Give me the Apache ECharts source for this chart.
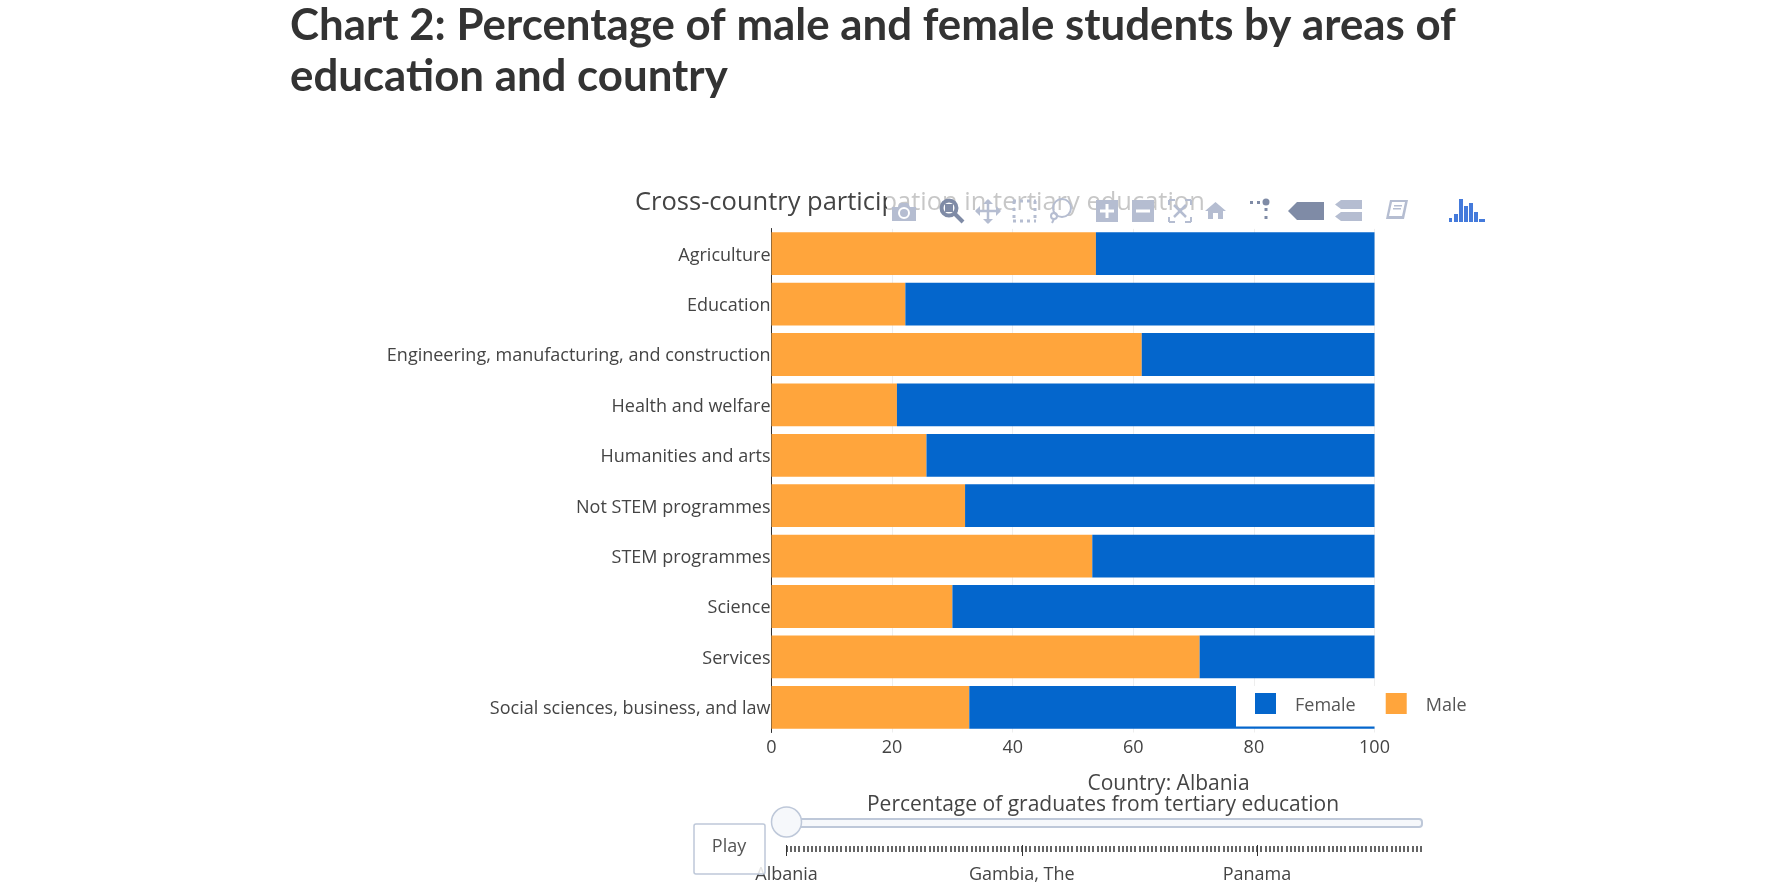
<!DOCTYPE html>
<html>
<head>
<meta charset="utf-8">
<title>Chart 2</title>
<style>
html, body { margin: 0; padding: 0; background: #fff; }
#main { width: 1784px; height: 892px; }
</style>
<script src="https://cdn.jsdelivr.net/npm/echarts@6/dist/echarts.min.js"></script>
</head>
<body>
<div id="main"></div>
<script>
// values
var categories = ['Agriculture', 'Education', 'Engineering, manufacturing, and construction', 'Health and welfare', 'Humanities and arts', 'Not STEM programmes', 'STEM programmes', 'Science', 'Services', 'Social sciences, business, and law'];
var maleValues = [53.8, 22.2, 61.4, 20.8, 25.7, 32.1, 53.2, 30.0, 71.0, 32.8];
var femaleValues = [46.2, 77.8, 38.6, 79.2, 74.3, 67.9, 46.8, 70.0, 29.0, 67.2];
var xTicks = [0, 20, 40, 60, 80, 100];

// slider under the chart
var sliderLabels = ['Albania', 'Gambia, The', 'Panama'];
var sliderLabelIndex = [0, 56, 112];
var sliderLastIndex = 151;

var pageTitle = 'Chart 2: Percentage of male and female students by areas of\neducation and country';
var chartTitle = 'Cross-country participation in tertiary education';
var axisTitle = 'Percentage of graduates from tertiary education';
var sliderTitle = 'Country: Albania';

var textColor = '#444';
var iconLight = '#b5bdd1';
var iconDark = '#7f8ba6';
var font = '"Open Sans"';

var chart = echarts.init(document.getElementById('main'));

// modebar icons, drawn over a half white strip like the original
function poly(points, color) {
	return { type: 'polygon', z: 30, shape: { points: points }, style: { fill: color } };
}
function bar(x, y, w, h, color) {
	return { type: 'rect', z: 30, shape: { x: x, y: y, width: w, height: h }, style: { fill: color } };
}
function line(x1, y1, x2, y2, color, width, dash) {
	return {
		type: 'line', z: 30,
		shape: { x1: x1, y1: y1, x2: x2, y2: y2 },
		style: { stroke: color, lineWidth: width, lineDash: dash || null }
	};
}
function dot(cx, cy, r, fill, stroke, width) {
	return { type: 'circle', z: 31, shape: { cx: cx, cy: cy, r: r }, style: { fill: fill, stroke: stroke || null, lineWidth: width || 0 } };
}

var modebar = [
	{ type: 'rect', z: 29, shape: { x: 887, y: 182, width: 603, height: 47 }, style: { fill: 'rgba(255,255,255,0.7)' } },
	// camera
	poly([[892, 207], [898, 207], [900, 203], [908, 203], [910, 207], [916, 207], [916, 221], [892, 221]], iconLight),
	dot(904, 213, 5, iconLight, '#fff', 2),
	// zoom
	dot(949, 208, 7.5, '#fff', iconDark, 4),
	{ type: 'rect', z: 32, shape: { x: 945, y: 204, width: 8, height: 8 }, style: { fill: iconDark } },
	line(955, 214, 963, 222, iconDark, 4),
	// pan
	line(988, 200, 988, 223, iconLight, 2.5),
	line(976, 211, 1000, 211, iconLight, 2.5),
	poly([[983, 204], [988, 199], [993, 204]], iconLight),
	poly([[983, 219], [988, 224], [993, 219]], iconLight),
	poly([[980, 206], [975, 211], [980, 216]], iconLight),
	poly([[996, 206], [1001, 211], [996, 216]], iconLight),
	// box select
	line(1013, 201, 1036, 201, iconLight, 3, [3, 4]),
	line(1013, 221, 1036, 221, iconLight, 3, [3, 4]),
	line(1014, 201, 1014, 221, iconLight, 3, [3, 4]),
	line(1035, 201, 1035, 221, iconLight, 3, [3, 4]),
	// lasso
	dot(1062, 208, 9, 'none', iconLight, 2),
	dot(1054, 216, 3, 'none', iconLight, 2),
	line(1054, 219, 1052, 223, iconLight, 2),
	// zoom in, zoom out
	bar(1096, 200, 22, 22, iconLight),
	{ type: 'rect', z: 31, shape: { x: 1105.5, y: 204, width: 3, height: 14 }, style: { fill: '#fff' } },
	{ type: 'rect', z: 31, shape: { x: 1100, y: 209.5, width: 14, height: 3 }, style: { fill: '#fff' } },
	bar(1132, 200, 22, 22, iconLight),
	{ type: 'rect', z: 31, shape: { x: 1136, y: 209.5, width: 14, height: 3 }, style: { fill: '#fff' } },
	// autoscale
	line(1169, 200, 1175, 200, iconLight, 2), line(1169, 200, 1169, 205, iconLight, 2),
	line(1185, 200, 1191, 200, iconLight, 2), line(1191, 200, 1191, 205, iconLight, 2),
	line(1169, 222, 1175, 222, iconLight, 2), line(1169, 217, 1169, 222, iconLight, 2),
	line(1185, 222, 1191, 222, iconLight, 2), line(1191, 217, 1191, 222, iconLight, 2),
	line(1174, 205, 1186, 217, iconLight, 2.5), line(1186, 205, 1174, 217, iconLight, 2.5),
	// home
	poly([[1215.5, 202], [1226, 211], [1223, 211], [1223, 219], [1218, 219], [1218, 213], [1213, 213], [1213, 219], [1208, 219], [1208, 211], [1205, 211]], iconLight),
	// spike lines
	bar(1250, 201, 3, 3, iconDark),
	bar(1257, 201, 3, 3, iconDark),
	dot(1266, 202, 3.5, iconDark),
	bar(1264.5, 208, 3, 3, iconDark),
	bar(1264.5, 216, 3, 3, iconDark),
	// hover closest, hover compare
	poly([[1297, 202], [1324, 202], [1324, 220], [1297, 220], [1288, 211]], iconDark),
	poly([[1341, 200], [1362, 200], [1362, 209], [1341, 209], [1335, 204.5]], iconLight),
	poly([[1341, 212], [1362, 212], [1362, 221], [1341, 221], [1335, 216.5]], iconLight),
	// book
	poly([[1390, 200], [1408, 200], [1404, 219], [1386, 219]], iconLight),
	poly([[1392, 202], [1405, 202], [1402, 216], [1389, 216]], '#fff'),
	{ type: 'rect', z: 31, shape: { x: 1394, y: 205, width: 8, height: 1.5 }, style: { fill: iconLight } },
	{ type: 'rect', z: 31, shape: { x: 1393, y: 208, width: 8, height: 1.5 }, style: { fill: iconLight } },
	// plotly logo
	bar(1449, 218, 3, 4, '#447adb'),
	bar(1454, 214, 4, 8, '#447adb'),
	bar(1459, 199, 4, 23, '#447adb'),
	bar(1464, 206, 4, 16, '#447adb'),
	bar(1469, 203, 4, 19, '#447adb'),
	bar(1474, 212, 4, 10, '#447adb'),
	bar(1479, 219, 6, 3, '#447adb')
];

// slider track, handle and play button
var slider = [
	{ type: 'rect', z: 5, shape: { x: 786, y: 819, width: 636, height: 8, r: 3 }, style: { fill: '#f6f8fb', stroke: '#bec8d9', lineWidth: 2 } },
	{ type: 'circle', z: 6, shape: { cx: 786.5, cy: 822, r: 15 }, style: { fill: '#f6f8fb', stroke: '#bec8d9', lineWidth: 1.5 } },
	{ type: 'rect', z: 7, shape: { x: 694, y: 824, width: 71, height: 50, r: 2 }, style: { fill: 'rgba(255,255,255,0.85)', stroke: '#bec8d9', lineWidth: 1.5 } },
	{ type: 'text', z: 8, x: 729, y: 847, style: { text: 'Play', font: '18px ' + font, fill: '#555', align: 'center', verticalAlign: 'middle' } }
];

var option = {
	animation: false,
	backgroundColor: '#fff',
	textStyle: { fontFamily: font },
	title: [{
		text: pageTitle, left: 290, top: 0, padding: 0,
		textStyle: { fontFamily: 'Lato', fontWeight: 700, fontSize: 43.8, lineHeight: 51, color: '#333' }
	}, {
		text: chartTitle, left: 635, top: 187, padding: 0,
		textStyle: { fontFamily: font, fontWeight: 400, fontSize: 25.5, lineHeight: 32, color: textColor }
	}, {
		text: sliderTitle, left: 1168.5, textAlign: 'center', top: 772, padding: 0,
		textStyle: { fontFamily: font, fontWeight: 400, fontSize: 21, lineHeight: 24, color: textColor }
	}, {
		text: axisTitle, left: 1103, textAlign: 'center', top: 793, padding: 0,
		textStyle: { fontFamily: font, fontWeight: 400, fontSize: 21, lineHeight: 24, color: textColor }
	}],
	legend: {
		data: ['Female', 'Male'],
		left: 1236, top: 686,
		padding: [7, 14, 12, 19],
		backgroundColor: '#fff',
		icon: 'rect',
		itemWidth: 21, itemHeight: 21, itemGap: 30,
		selectedMode: false,
		z: 10,
		formatter: function(name) {
			return '{t|' + name + '}';
		},
		textStyle: {
			color: '#555', fontFamily: font, fontSize: 18,
			rich: { t: { color: '#555', fontFamily: font, fontSize: 18, padding: [4, 0, 0, 14] } }
		}
	},
	grid: [
		{ left: 771.5, width: 603, top: 228.5, height: 504 },
		{ left: 786.6, width: 634.1, top: 845, height: 1 }
	],
	xAxis: [{
		type: 'value', gridIndex: 0, min: 0, max: 100, interval: 20,
		axisLine: { show: false }, axisTick: { show: false },
		splitLine: { show: true, lineStyle: { color: '#eee', width: 1 } },
		axisLabel: { color: textColor, fontFamily: font, fontSize: 18, margin: 6, customValues: xTicks }
	}, {
		// one short tick per country
		type: 'value', gridIndex: 1, position: 'top', min: 0, max: sliderLastIndex, interval: 1,
		axisLine: { show: false },
		axisTick: { show: true, inside: true, length: 6, lineStyle: { color: '#333', width: 1.5 } },
		axisLabel: { show: false }, splitLine: { show: false }
	}, {
		// longer ticks and names
		type: 'value', gridIndex: 1, position: 'top', min: 0, max: sliderLastIndex,
		axisLine: { show: false },
		axisTick: { show: true, inside: true, length: 11, lineStyle: { color: '#333', width: 1 }, customValues: sliderLabelIndex },
		axisLabel: {
			show: true, inside: true, margin: 21, color: textColor, fontFamily: font, fontSize: 18, customValues: sliderLabelIndex,
			formatter: function(value) {
				return sliderLabels[sliderLabelIndex.indexOf(value)];
			}
		},
		splitLine: { show: false }
	}],
	yAxis: [{
		type: 'category', gridIndex: 0, inverse: true, data: categories,
		axisLine: { show: true, lineStyle: { color: '#333', width: 1 } },
		axisTick: { show: false },
		splitLine: { show: false },
		axisLabel: { color: textColor, fontFamily: font, fontSize: 18, margin: 1, verticalAlign: 'top', lineHeight: 3.5 }
	}, {
		type: 'value', gridIndex: 1, show: false, min: 0, max: 1
	}],
	series: [{
		name: 'Male', type: 'bar', stack: 'share', xAxisIndex: 0, yAxisIndex: 0,
		barCategoryGap: '15%', itemStyle: { color: '#ffa53c' }, data: maleValues
	}, {
		name: 'Female', type: 'bar', stack: 'share', xAxisIndex: 0, yAxisIndex: 0,
		barCategoryGap: '15%', itemStyle: { color: '#0466cc' }, data: femaleValues
	}],
	graphic: { elements: modebar.concat(slider) }
};
chart.setOption(option);
</script>
</body>
</html>
